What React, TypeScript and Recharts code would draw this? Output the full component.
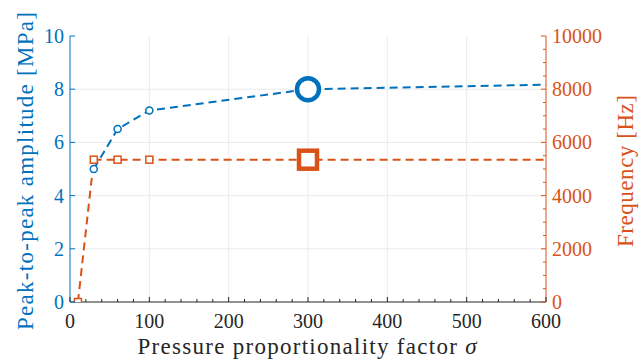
import React from "react";
import { ComposedChart, Line, XAxis, YAxis, ReferenceLine, Label } from "recharts";

// sigma values (last point lies beyond the visible range, line is clipped)
const sigma = [10, 30, 60, 100, 300, 1000];
const amplitude = [null, 5.0, 6.5, 7.2, 8.0, 8.4]; // MPa
const frequency = [0, 5350, 5350, 5350, 5350, 5350]; // Hz
const HIGHLIGHT = 300;

const xMajor = [0, 100, 200, 300, 400, 500, 600];
const yLeftTicks = [0, 2, 4, 6, 8, 10];
const yRightMajor = [0, 2000, 4000, 6000, 8000, 10000];

const xTicks: number[] = [];
for (let v = 0; v <= 600; v += 20) xTicks.push(v);
const yRightTicks: number[] = [];
for (let v = 0; v <= 10000; v += 500) yRightTicks.push(v);

const BLUE = "#0072BD";
const ORANGE = "#D95319";
const AXIS = "#262626";
const GRID = "#ebebeb";
const txt = { fontFamily: "Liberation Serif", fontSize: 20 };
const lbl = { fontFamily: "Liberation Serif", fontSize: 23 };

const rows = sigma.map((s, i) => ({ sigma: s, amplitude: amplitude[i], frequency: frequency[i] }));

const BottomTick = (props: any) => {
  const { x, y, payload } = props;
  const major = xMajor.includes(payload.value);
  return (
    <g>
      <line x1={x} x2={x} y1={y} y2={y - (major ? 5 : 3)} stroke={AXIS} strokeWidth={1} />
      {major && (
        <text x={x} y={y + 26} textAnchor="middle" fill={AXIS} style={txt}>
          {payload.value}
        </text>
      )}
    </g>
  );
};

const TopTick = (props: any) => {
  const { x, y, payload } = props;
  const major = xMajor.includes(payload.value);
  return <line x1={x} x2={x} y1={y} y2={y + (major ? 5 : 3)} stroke={AXIS} strokeWidth={1} />;
};

const LeftTick = (props: any) => {
  const { x, y, payload } = props;
  return (
    <g>
      <line x1={x} x2={x + 5} y1={y} y2={y} stroke={BLUE} strokeWidth={1} />
      <text x={x - 6} y={y} dy="0.35em" textAnchor="end" fill={BLUE} style={txt}>
        {payload.value}
      </text>
    </g>
  );
};

const RightTick = (props: any) => {
  const { x, y, payload } = props;
  const major = yRightMajor.includes(payload.value);
  return (
    <g>
      <line x1={x} x2={x - (major ? 5 : 3)} y1={y} y2={y} stroke={ORANGE} strokeWidth={1} />
      {major && (
        <text x={x + 6} y={y} dy="0.35em" textAnchor="start" fill={ORANGE} style={txt}>
          {payload.value}
        </text>
      )}
    </g>
  );
};

const BlueDot = (props: any) => {
  const { cx, cy, payload, index } = props;
  if (cx == null || cy == null || payload.amplitude == null) return <g key={`b${index}`} />;
  const big = payload.sigma === HIGHLIGHT;
  return (
    <circle key={`b${index}`} cx={cx} cy={cy} r={big ? 11 : 3.5} fill="#fff" stroke={BLUE} strokeWidth={big ? 4.5 : 1.5} />
  );
};

const OrangeDot = (props: any) => {
  const { cx, cy, payload, index } = props;
  if (cx == null || cy == null) return <g key={`o${index}`} />;
  const big = payload.sigma === HIGHLIGHT;
  const s = big ? 18 : 7;
  return (
    <rect key={`o${index}`} x={cx - s / 2} y={cy - s / 2} width={s} height={s} fill="#fff" stroke={ORANGE} strokeWidth={big ? 4.5 : 1.5} />
  );
};

export default function App() {
  return (
    <div style={{ position: "absolute", left: 0, top: 0, background: "#fff" }}>
      <ComposedChart width={644} height={361} data={rows} margin={{ top: 36, right: 0, bottom: 0, left: 0 }}>
        <XAxis
          xAxisId="bottom"
          dataKey="sigma"
          type="number"
          domain={[0, 600]}
          allowDataOverflow
          ticks={xTicks}
          interval={0}
          height={59}
          tickSize={0}
          tickMargin={0}
          tickLine={false}
          tick={<BottomTick />}
          axisLine={{ stroke: AXIS, strokeWidth: 1 }}
        >
          <Label
            content={(p: any) => {
              const vb = p.viewBox;
              return (
                <text
                  x={vb.x + vb.width / 2 - 1}
                  y={vb.y + 52}
                  textAnchor="middle"
                  fill={AXIS}
                  style={lbl}
                  textLength={339}
                  lengthAdjust="spacing"
                >
                  Pressure proportionality factor <tspan fontStyle="italic">σ</tspan>
                </text>
              );
            }}
          />
        </XAxis>
        <XAxis
          xAxisId="top"
          orientation="top"
          dataKey="sigma"
          type="number"
          domain={[0, 600]}
          allowDataOverflow
          ticks={xTicks}
          interval={0}
          height={0}
          tickSize={0}
          tickMargin={0}
          tickLine={false}
          tick={<TopTick />}
          axisLine={{ stroke: AXIS, strokeWidth: 1 }}
        />
        <YAxis
          yAxisId="left"
          type="number"
          domain={[0, 10]}
          allowDataOverflow
          ticks={yLeftTicks}
          interval={0}
          width={70}
          tickSize={0}
          tickMargin={0}
          tickLine={false}
          tick={<LeftTick />}
          axisLine={{ stroke: BLUE, strokeWidth: 1 }}
        >
          <Label
            content={(p: any) => {
              const vb = p.viewBox;
              const cx = vb.x + 25;
              const cy = vb.y + vb.height / 2 + 2;
              return (
                <text
                  transform={`translate(${cx},${cy}) rotate(-90)`}
                  dy="0.35em"
                  textAnchor="middle"
                  fill={BLUE}
                  style={lbl}
                  textLength={318}
                  lengthAdjust="spacing"
                >
                  Peak-to-peak amplitude [MPa]
                </text>
              );
            }}
          />
        </YAxis>
        <YAxis
          yAxisId="right"
          orientation="right"
          type="number"
          domain={[0, 10000]}
          allowDataOverflow
          ticks={yRightTicks}
          interval={0}
          width={98}
          tickSize={0}
          tickMargin={0}
          tickLine={false}
          tick={<RightTick />}
          axisLine={{ stroke: ORANGE, strokeWidth: 1 }}
        >
          <Label
            content={(p: any) => {
              const vb = p.viewBox;
              const cx = vb.x + 79;
              const cy = vb.y + vb.height / 2 + 2;
              return (
                <text
                  transform={`translate(${cx},${cy}) rotate(-90)`}
                  dy="0.35em"
                  textAnchor="middle"
                  fill={ORANGE}
                  style={lbl}
                  textLength={152}
                  lengthAdjust="spacing"
                >
                  Frequency [Hz]
                </text>
              );
            }}
          />
        </YAxis>
        {xMajor.slice(1, -1).map((v) => (
          <ReferenceLine key={`gx${v}`} xAxisId="bottom" yAxisId="left" x={v} stroke={GRID} strokeWidth={1} />
        ))}
        {yLeftTicks.slice(1, -1).map((v) => (
          <ReferenceLine key={`gy${v}`} xAxisId="bottom" yAxisId="left" y={v} stroke={GRID} strokeWidth={1} />
        ))}
        <Line
          xAxisId="bottom"
          yAxisId="left"
          dataKey="amplitude"
          stroke={BLUE}
          strokeWidth={2}
          strokeDasharray="8 5"
          dot={<BlueDot />}
          activeDot={false}
          isAnimationActive={false}
        />
        <Line
          xAxisId="bottom"
          yAxisId="right"
          dataKey="frequency"
          stroke={ORANGE}
          strokeWidth={2}
          strokeDasharray="8 5"
          dot={<OrangeDot />}
          activeDot={false}
          isAnimationActive={false}
        />
      </ComposedChart>
    </div>
  );
}
